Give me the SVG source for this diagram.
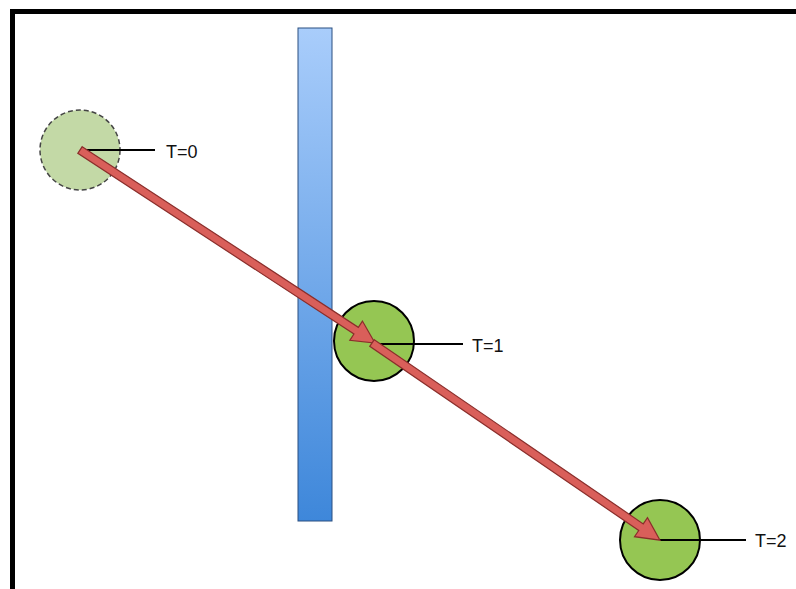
<svg xmlns="http://www.w3.org/2000/svg" width="796" height="589" viewBox="0 0 796 589">
<defs>
<linearGradient id="wall" x1="0" y1="0" x2="0" y2="1">
<stop offset="0" stop-color="#a9cdfb"/>
<stop offset="1" stop-color="#3e87da"/>
</linearGradient>
<style>
.ball{fill:#95c653;stroke:#000;stroke-width:2}
.ghost{fill:#c3d9a6;stroke:#444;stroke-width:1.5;stroke-dasharray:5 3}
.tick{stroke:#000;stroke-width:2;fill:none}
.lbl{font-family:"Liberation Sans",Arial,sans-serif;font-size:18px;fill:#111}
.arrow{fill:#d95f5a;stroke:#8a2e2b;stroke-width:1.2;stroke-linejoin:miter}
</style>
</defs>
<rect width="796" height="589" fill="#fff"/>
<path d="M12.5 589 V11.5 H796" fill="none" stroke="#000" stroke-width="5"/>
<g id="wall-node">
<rect x="298" y="28" width="34" height="493" fill="url(#wall)" stroke="#2a4f80" stroke-width="1"/>
</g>
<g id="t0">
<circle class="ghost" cx="80" cy="150" r="40"/>
<line class="tick" x1="80" y1="150" x2="155" y2="150"/>
<text class="lbl" x="166" y="158">T=0</text>
</g>
<g id="t1">
<circle class="ball" cx="374" cy="341" r="40"/>
<line class="tick" x1="374" y1="344" x2="463" y2="344"/>
<text class="lbl" x="472" y="352">T=1</text>
</g>
<g id="t2">
<circle class="ball" cx="660" cy="540" r="40"/>
<line class="tick" x1="660" y1="540" x2="746" y2="540"/>
<text class="lbl" x="755" y="547">T=2</text>
</g>
<g id="connectors">
<polygon class="arrow" transform="translate(80 150) rotate(33.2)" points="0,-4 330,-4 330,-11.5 352.5,0 330,11.5 330,4 0,4"/>
<polygon class="arrow" transform="translate(372 343) rotate(34.4)" points="0,-4 326,-4 326,-11.5 349,0 326,11.5 326,4 0,4"/>
</g>
</svg>
